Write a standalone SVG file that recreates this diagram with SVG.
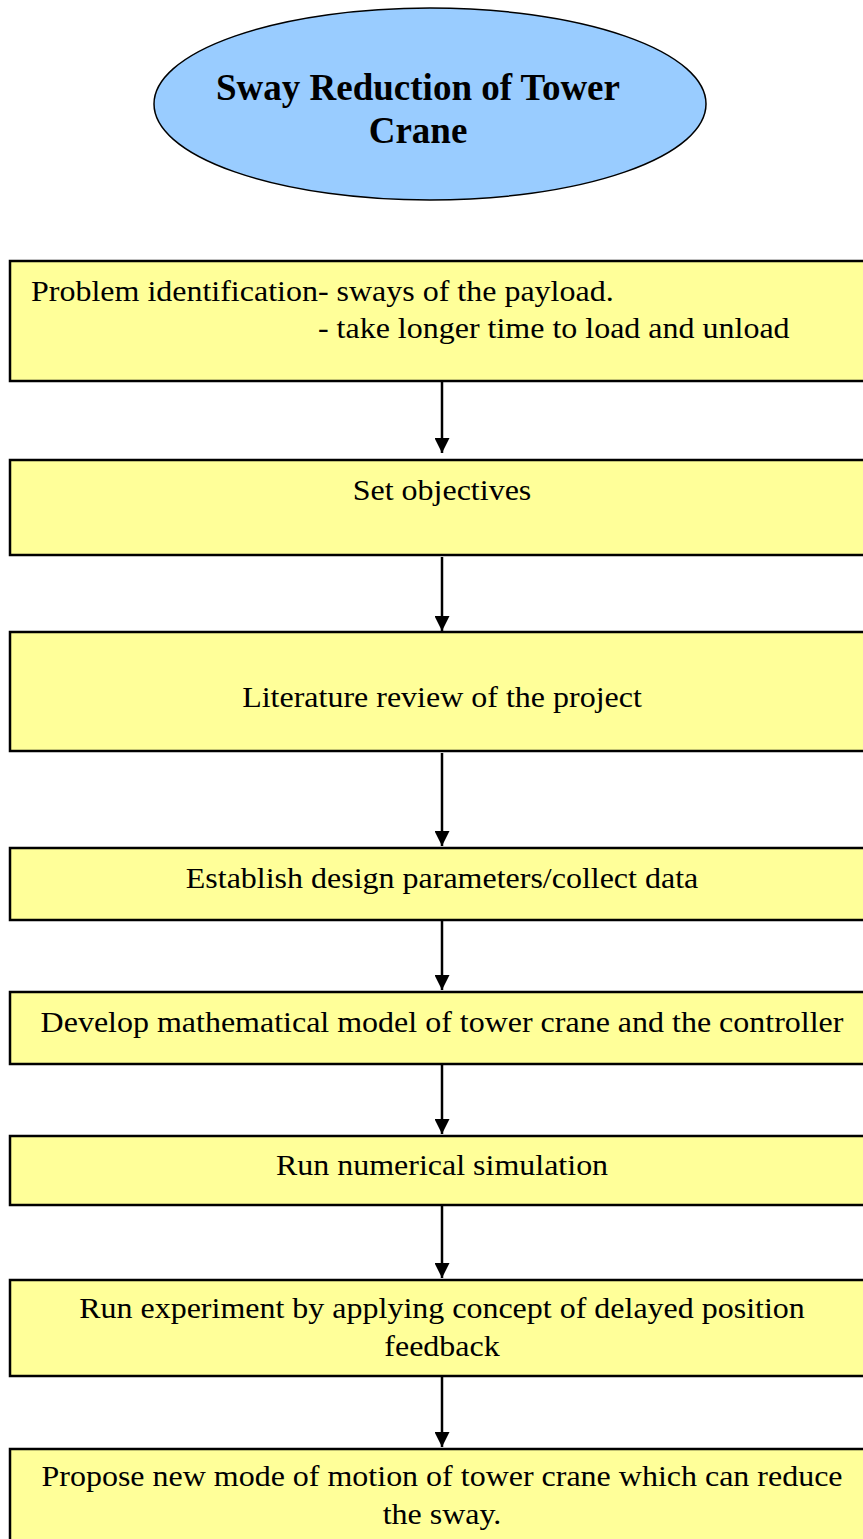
<svg xmlns="http://www.w3.org/2000/svg" width="863" height="1539" viewBox="0 0 863 1539">
<style>
.box{fill:#FFFF99;stroke:#000;stroke-width:2.5}
.t{font-family:"Liberation Serif","Times New Roman",serif;font-size:30px;fill:#000}
.c{text-anchor:middle}
.title{font-family:"Liberation Serif","Times New Roman",serif;font-size:37px;font-weight:bold;text-anchor:middle;fill:#000}
.edge{stroke:#000;stroke-width:2.5;fill:none;marker-end:url(#ah)}
</style>
<defs>
<marker id="ah" markerWidth="6" markerHeight="6" refX="6" refY="3" orient="auto" markerUnits="strokeWidth">
<path d="M0,0 L6,3 L0,6 Z" fill="#000"/>
</marker>
</defs>
<rect width="863" height="1539" fill="#fff"/>
<g id="title">
<ellipse cx="430" cy="104" rx="276" ry="96" fill="#99CCFF" stroke="#000" stroke-width="1.5"/>
<text class="title" x="418" y="100">Sway Reduction of Tower</text>
<text class="title" x="418" y="143">Crane</text>
</g>
<g id="n1">
<rect class="box" x="10" y="261" width="880" height="120"/>
<g transform="matrix(1.0667 0 0 1 -29.47 0)">
<text class="t" x="56.7" y="301">Problem identification- sways of the payload.</text>
<text class="t" x="325.7" y="338">- take longer time to load and unload</text>
</g>
</g>
<g id="n2">
<rect class="box" x="10" y="460" width="880" height="95"/>
<text class="t c" x="442" y="500" transform="matrix(1.0667 0 0 1 -29.47 0)">Set objectives</text>
</g>
<g id="n3">
<rect class="box" x="10" y="632" width="880" height="119"/>
<text class="t c" x="442" y="707" transform="matrix(1.0667 0 0 1 -29.47 0)">Literature review of the project</text>
</g>
<g id="n4">
<rect class="box" x="10" y="848" width="880" height="72"/>
<text class="t c" x="442" y="888" transform="matrix(1.0667 0 0 1 -29.47 0)">Establish design parameters/collect data</text>
</g>
<g id="n5">
<rect class="box" x="10" y="992" width="880" height="72"/>
<text class="t c" x="442" y="1032" transform="matrix(1.0667 0 0 1 -29.47 0)">Develop mathematical model of tower crane and the controller</text>
</g>
<g id="n6">
<rect class="box" x="10" y="1136" width="880" height="69"/>
<text class="t c" x="442" y="1175" transform="matrix(1.0667 0 0 1 -29.47 0)">Run numerical simulation</text>
</g>
<g id="n7">
<rect class="box" x="10" y="1280" width="880" height="96"/>
<g transform="matrix(1.0667 0 0 1 -29.47 0)">
<text class="t c" x="442" y="1318">Run experiment by applying concept of delayed position</text>
<text class="t c" x="442" y="1356">feedback</text>
</g>
</g>
<g id="n8">
<rect class="box" x="10" y="1449" width="880" height="110"/>
<g transform="matrix(1.0667 0 0 1 -29.47 0)">
<text class="t c" x="442" y="1486">Propose new mode of motion of tower crane which can reduce</text>
<text class="t c" x="442" y="1524">the sway.</text>
</g>
</g>
<g id="connectors">
<line class="edge" x1="442" y1="382" x2="442" y2="453"/>
<line class="edge" x1="442" y1="557" x2="442" y2="631"/>
<line class="edge" x1="442" y1="753" x2="442" y2="846"/>
<line class="edge" x1="442" y1="921" x2="442" y2="990"/>
<line class="edge" x1="442" y1="1065" x2="442" y2="1134"/>
<line class="edge" x1="442" y1="1206" x2="442" y2="1278"/>
<line class="edge" x1="442" y1="1377" x2="442" y2="1447"/>
</g>
</svg>
